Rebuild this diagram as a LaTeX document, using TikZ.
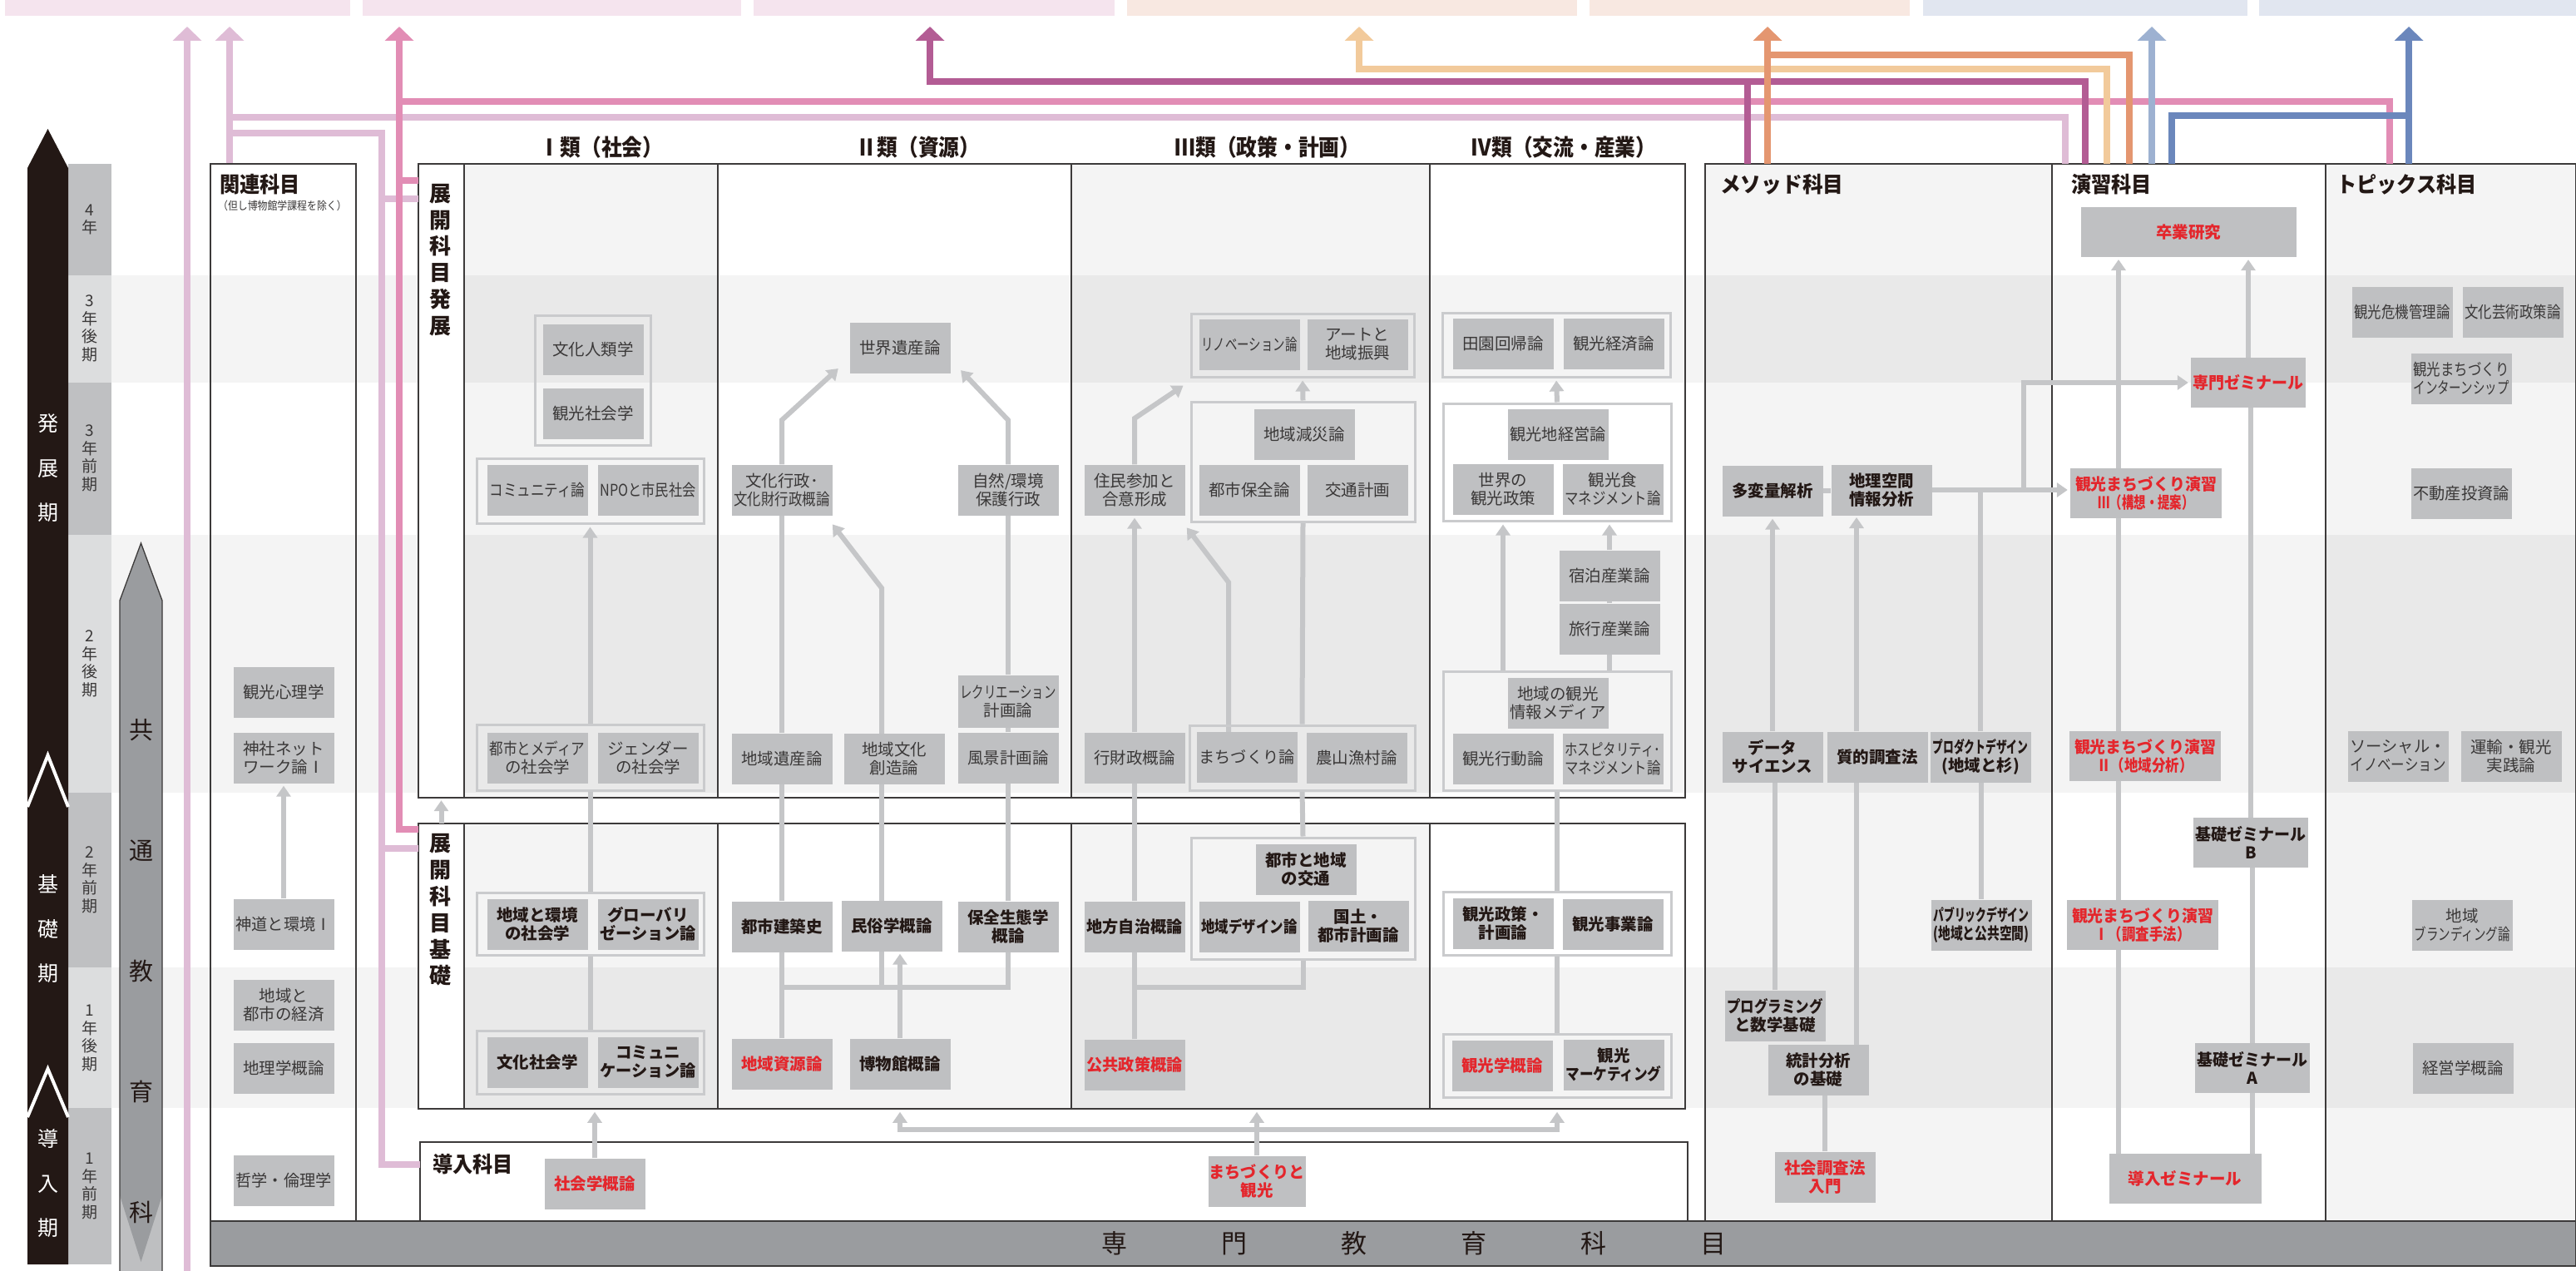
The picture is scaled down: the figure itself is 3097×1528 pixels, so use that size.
\documentclass[tikz,border=0pt]{standalone}
\usepackage{fontspec}
\setmainfont{Noto Sans CJK JP}
\usepackage{graphicx}
\usetikzlibrary{arrows.meta}
\pgfdeclarelayer{back}
\pgfdeclarelayer{conn}
\pgfsetlayers{back,conn,main}
\definecolor{nodegray}{HTML}{BFC0C2}
\definecolor{txtgray}{HTML}{3A3838}
\definecolor{txtblack}{HTML}{231815}
\definecolor{txtred}{HTML}{E4262C}
\definecolor{grpgray}{HTML}{CACBCD}
\definecolor{lingray}{HTML}{C5C6C8}
\definecolor{bggray}{HTML}{F4F4F4}
\definecolor{framec}{HTML}{3C3A3A}
\definecolor{yeardark}{HTML}{BFC0C2}
\definecolor{yearlight}{HTML}{DCDDDE}
\definecolor{kyotsu}{HTML}{9A9C9F}
\definecolor{kyotsul}{HTML}{BEBFC1}
\definecolor{barpink}{HTML}{F5E4EE}
\definecolor{barpeach}{HTML}{F8E8E1}
\definecolor{barblue}{HTML}{E1E6F0}
\definecolor{clpink}{HTML}{DFBCD6}
\definecolor{cpink}{HTML}{E28DB5}
\definecolor{cmag}{HTML}{B35C94}
\definecolor{clorange}{HTML}{F2CA9B}
\definecolor{corange}{HTML}{E49670}
\definecolor{clblue}{HTML}{9DB1D1}
\definecolor{cblue}{HTML}{6B87BC}
\newsavebox\fitbox
\newlength\fitmaxw
\newlength\fittmp
\setlength\fitmaxw{115pt}
\newcommand\fl[1]{\sbox\fitbox{#1}\setlength\fittmp{\wd\fitbox}\ifdim\fittmp>\fitmaxw\relax\pgfmathsetmacro\fitfac{\fitmaxw/\fittmp}\scalebox{\fitfac}[1]{\usebox\fitbox}\else\usebox\fitbox\fi}
\tikzset{
 crs/.style={fill=nodegray, minimum width=121pt, minimum height=61pt, inner sep=0pt, align=center, text=txtgray, font=\fontsize{19.5}{22}\selectfont},
 crsb/.style={crs, text=txtblack, font=\fontsize{19.5}{22}\selectfont\bfseries},
 crsr/.style={crs, text=txtred, font=\fontsize{19.5}{22}\selectfont\bfseries},
 grp/.style={draw=grpgray, line width=3pt, inner sep=0pt},
 conn/.style={draw=lingray, line width=6pt},
 carr/.style={conn, -{Triangle[width=17pt,length=13pt]}, shorten >=3pt},
 frm/.style={draw=framec, line width=1.5pt, inner sep=0pt},
 cl/.style={line width=8pt, -{Triangle[width=34pt,length=17pt]}},
 cln/.style={line width=8pt},
 hdr/.style={inner sep=0pt, text=txtblack, font=\fontsize{27.5}{30}\selectfont\bfseries},
 ttl/.style={inner sep=0pt, anchor=west, text=txtblack, font=\fontsize{26}{28}\selectfont\bfseries},
 yr/.style={inner sep=0pt, align=center, text=txtgray, font=\fontsize{19}{21.5}\selectfont},
 blk/.style={inner sep=0pt, align=center, text=white, font=\fontsize{25}{53.5}\selectfont},
 vlab/.style={inner sep=0pt, align=center, text=txtblack, font=\fontsize{26}{31.8}\selectfont\bfseries},
}
\begin{document}
\begin{tikzpicture}[x=1pt,y=-1pt]
\useasboundingbox (0,0) rectangle (3097,1528);
\begin{pgfonlayer}{back}
% top bars
\fill[barpink] (6,0) rectangle (421,19);
\fill[barpink] (436,0) rectangle (891,19);
\fill[barpink] (906,0) rectangle (1340,19);
\fill[barpeach] (1355,0) rectangle (1896,19);
\fill[barpeach] (1911,0) rectangle (2296,19);
\fill[barblue] (2312,0) rectangle (2702,19);
\fill[barblue] (2716,0) rectangle (3097,19);
% column backgrounds
\fill[white] (253,197) rectangle (428,1468);
\fill[bggray] (558,197) rectangle (863,959);
\fill[bggray] (558,990) rectangle (863,1333);
\fill[bggray] (1288,197) rectangle (1719,959);
\fill[bggray] (1288,990) rectangle (1719,1333);
\fill[bggray] (2050,197) rectangle (2467,1468);
\fill[bggray] (2796,197) rectangle (3097,1468);
% bands
\fill[black, opacity=0.045] (134,331) rectangle (3097,460);
\fill[black, opacity=0.045] (134,643) rectangle (3097,953);
\fill[black, opacity=0.045] (134,1163) rectangle (3097,1332);
% label columns
\node[fill=white, minimum width=55pt, minimum height=762pt, inner sep=0pt] (hattenL) at (530.5,578) {};
\node[fill=white, minimum width=55pt, minimum height=343pt, inner sep=0pt] (kisoL) at (530.5,1161.5) {};
% year column
\fill[yeardark] (82,197) rectangle (134,331);
\fill[yearlight] (82,331) rectangle (134,460);
\fill[yeardark] (82,460) rectangle (134,643);
\fill[yearlight] (82,643) rectangle (134,953);
\fill[yeardark] (82,953) rectangle (134,1163);
\fill[yearlight] (82,1163) rectangle (134,1332);
\fill[yeardark] (82,1332) rectangle (134,1520);
% black period arrow
\fill[txtblack] (57.5,155) -- (82,202) -- (82,1520) -- (33,1520) -- (33,202) -- cycle;
\draw[white, line width=4pt] (33,970) -- (57.5,908) -- (82,970);
\draw[white, line width=4pt] (33,1343) -- (57.5,1285) -- (82,1343);
% common education arrow
\fill[kyotsul] (169.5,653) -- (195,722) -- (195,1528) -- (144,1528) -- (144,722) -- cycle;
\fill[kyotsu] (169.5,653) -- (195,722) -- (195,1437) -- (169.5,1517) -- (144,1437) -- (144,722) -- cycle;
\draw[framec, line width=1.3pt] (144,1528) -- (144,722) -- (169.5,653) -- (195,722) -- (195,1528);
% frames
\node[frm, minimum width=175pt, minimum height=1271pt] (kanrenF) at (340.5,832.5) {};
\node[frm, minimum width=1523pt, minimum height=762pt] (hattenF) at (1264.5,578) {};
\node[frm, minimum width=1523pt, minimum height=343pt] (kisoF) at (1264.5,1161.5) {};
\node[frm, fill=white, minimum width=1524pt, minimum height=95pt] (donyuF) at (1267,1420.5) {};
\node[frm, minimum width=417pt, minimum height=1271pt] (methodF) at (2258.5,832.5) {};
\node[frm, minimum width=329pt, minimum height=1271pt] (enshuF) at (2631.5,832.5) {};
\node[frm, minimum width=301pt, minimum height=1271pt] (topicsF) at (2946.5,832.5) {};
\draw[framec, line width=1.2pt] (558,197) -- (558,959) (863,197) -- (863,959) (1288,197) -- (1288,959) (1719,197) -- (1719,959);
\draw[framec, line width=1.2pt] (558,990) -- (558,1333) (863,990) -- (863,1333) (1288,990) -- (1288,1333) (1719,990) -- (1719,1333);
\node[frm, fill=kyotsu, minimum width=2844pt, minimum height=54pt] (senmonBar) at (1675,1495) {};
% colored lines
\draw[clpink, cl] (225,1528) -- (225,32);
\draw[clpink, cl] (kanrenF.north -| 276,0) -- (276,32);
\draw[clpink, cln] (276,141) -- (2483,141) -- (2483,197);
\draw[clpink, cln] (276,160) -- (459,160) -- (459,1400) -- (505,1400);
\draw[clpink, cln] (459,239) -- (503,239);
\draw[clpink, cln] (459,1020) -- (503,1020);
\draw[cpink, cl] (503,997) -- (480,997) -- (480,32);
\draw[cpink, cln] (480,217) -- (503,217);
\draw[cpink, cln] (480,122) -- (2873,122) -- (2873,197);
\draw[cmag, cl] (2507,197) -- (2507,98) -- (1118,98) -- (1118,32);
\draw[cmag, cln] (2101,98) -- (2101,197);
\draw[clorange, cl] (2533,197) -- (2533,83) -- (1634,83) -- (1634,32);
\draw[corange, cl] (2125,197) -- (2125,32);
\draw[corange, cln] (2125,66) -- (2560,66) -- (2560,197);
\draw[clblue, cl] (2587,197) -- (2587,32);
\draw[cblue, cl] (2896,197) -- (2896,32);
\draw[cblue, cln] (2896,139) -- (2611,139) -- (2611,197);
\end{pgfonlayer}
% labels on left
\node[yr] (y1) at (108,264) {4\\年};
\node[yr] (y2) at (108,395) {3\\年\\後\\期};
\node[yr] (y3) at (108,551) {3\\年\\前\\期};
\node[yr] (y4) at (108,798) {2\\年\\後\\期};
\node[yr] (y5) at (108,1058) {2\\年\\前\\期};
\node[yr] (y6) at (108,1248) {1\\年\\後\\期};
\node[yr] (y7) at (108,1426) {1\\年\\前\\期};
\node[blk] (p1) at (57.5,563) {発\\展\\期};
\node[blk] (p2) at (57.5,1117) {基\\礎\\期};
\node[blk] (p3) at (57.5,1423) {導\\入\\期};
\node[inner sep=0pt, align=center, text=txtblack, font=\fontsize{29}{145}\selectfont] (kyo) at (169.5,1168) {共\\通\\教\\育\\科};
\node[inner sep=0pt, text=txtblack, font=\fontsize{31}{33}\selectfont] (senmonT) at (1700,1495) {専\hspace{113pt}門\hspace{113pt}教\hspace{113pt}育\hspace{113pt}科\hspace{113pt}目};
% titles
\node[hdr] (hI) at (723,177) {\scalebox{0.9}[1]{Ⅰ類（社会）}};
\node[hdr] (hII) at (1104,177) {\scalebox{0.9}[1]{Ⅱ類（資源）}};
\node[hdr] (hIII) at (1524,177) {\scalebox{0.9}[1]{Ⅲ類（政策・計画）}};
\node[hdr] (hIV) at (1880,177) {\scalebox{0.9}[1]{Ⅳ類（交流・産業）}};
\node[ttl] (tKanren) at (264,222) {\scalebox{0.93}[1]{関連科目}};
\node[inner sep=0pt, anchor=west, text=txtgray, font=\fontsize{13.5}{15}\selectfont] (tKanren2) at (262,247) {\scalebox{0.88}[1]{（但し博物館学課程を除く）}};
\node[ttl] (tMethod) at (2068,222) {\scalebox{0.95}[1]{メソッド科目}};
\node[ttl] (tEnshu) at (2490,222) {\scalebox{0.93}[1]{演習科目}};
\node[ttl] (tTopics) at (2809,222) {\scalebox{0.93}[1]{トピックス科目}};
\node[ttl] (tDonyu) at (520,1400) {\scalebox{0.93}[1]{導入科目}};
\node[vlab] (vHatten) at (529,312.5) {展\\開\\科\\目\\発\\展};
\node[vlab] (vKiso) at (529,1094) {展\\開\\科\\目\\基\\礎};
% groups
\node[grp, minimum width=139pt, minimum height=156pt] (gI1) at (712.5,457) {};
\node[grp, minimum width=273pt, minimum height=78pt] (gI2) at (709.5,590) {};
\node[grp, minimum width=273pt, minimum height=79pt] (gI3) at (709.5,910.5) {};
\node[grp, minimum width=273pt, minimum height=75pt] (gI4) at (709.5,1110.5) {};
\node[grp, minimum width=273pt, minimum height=76pt] (gI5) at (709.5,1277) {};
\node[grp, minimum width=268pt, minimum height=76pt] (gIII1) at (1566,415) {};
\node[grp, minimum width=269pt, minimum height=144pt] (gIII2) at (1566.5,555) {};
\node[grp, minimum width=271pt, minimum height=78pt] (gIII3) at (1565.5,911) {};
\node[grp, minimum width=269pt, minimum height=146pt] (gIII4) at (1566.5,1080) {};
\node[grp, minimum width=274pt, minimum height=77pt] (gIV1) at (1871,414.5) {};
\node[grp, minimum width=274pt, minimum height=141pt] (gIV2) at (1872,555.5) {};
\node[grp, minimum width=274pt, minimum height=143pt] (gIV3) at (1872,878.5) {};
\node[grp, minimum width=274pt, minimum height=76pt] (gIV4) at (1872,1110) {};
\node[grp, minimum width=274pt, minimum height=76pt] (gIV5) at (1872,1281) {};
% nodes: related
\node[crs] (kr1) at (341,832) {\fl{観光心理学}};
\node[crs] (kr2) at (341,911) {\fl{神社ネット}\\\fl{ワーク論Ⅰ}};
\node[crs] (kr3) at (341,1111) {\fl{神道と環境Ⅰ}};
\node[crs] (kr4) at (341,1208) {\fl{地域と}\\\fl{都市の経済}};
\node[crs] (kr5) at (341,1284) {\fl{地理学概論}};
\node[crs] (kr6) at (341,1419) {\fl{哲学・倫理学}};
% I
\node[crs] (i1) at (713,420) {\fl{文化人類学}};
\node[crs] (i2) at (713,497) {\fl{観光社会学}};
\node[crs] (i3) at (646,589) {\fl{コミュニティ論}};
\node[crs] (i4) at (779,589) {\fl{NPOと市民社会}};
\node[crs] (i5) at (646,911) {\fl{都市とメディア}\\\fl{の社会学}};
\node[crs] (i6) at (779,911) {\fl{ジェンダー}\\\fl{の社会学}};
\node[crsb] (i7) at (646,1111) {\fl{地域と環境}\\\fl{の社会学}};
\node[crsb] (i8) at (779,1111) {\fl{グローバリ}\\\fl{ゼーション論}};
\node[crsb] (i9) at (646,1277) {\fl{文化社会学}};
\node[crsb] (i10) at (779,1277) {\fl{コミュニ}\\\fl{ケーション論}};
\node[crsr] (shakai) at (715,1423) {\fl{社会学概論}};
% II
\node[crs] (ii1) at (1082,418) {\fl{世界遺産論}};
\node[crs] (ii2) at (940,589) {\fl{文化行政･}\\\fl{文化財行政概論}};
\node[crs] (ii3) at (1212,589) {\fl{自然/環境}\\\fl{保護行政}};
\node[crs, minimum height=63pt] (ii4) at (1212,843) {\fl{レクリエーション}\\\fl{計画論}};
\node[crs] (ii5) at (940,912) {\fl{地域遺産論}};
\node[crs] (ii6) at (1075,912) {\fl{地域文化}\\\fl{創造論}};
\node[crs] (ii7) at (1212,911) {\fl{風景計画論}};
\node[crsb] (ii8) at (940,1114) {\fl{都市建築史}};
\node[crsb] (ii9) at (1072,1113) {\fl{民俗学概論}};
\node[crsb] (ii10) at (1212,1114) {\fl{保全生態学}\\\fl{概論}};
\node[crsr] (ii11) at (940,1279) {\fl{地域資源論}};
\node[crsb] (ii12) at (1082,1279) {\fl{博物館概論}};
% III
\node[crs] (iii1) at (1502,414) {\fl{リノベーション論}};
\node[crs] (iii2) at (1632,414) {\fl{アートと}\\\fl{地域振興}};
\node[crs] (iii3) at (1568,522) {\fl{地域減災論}};
\node[crs] (iii4) at (1502,589) {\fl{都市保全論}};
\node[crs] (iii5) at (1632,589) {\fl{交通計画}};
\node[crs] (iii6) at (1364,589) {\fl{住民参加と}\\\fl{合意形成}};
\node[crs] (iii7) at (1364,911) {\fl{行財政概論}};
\node[crs] (iii8) at (1499,910) {\fl{まちづくり論}};
\node[crs] (iii9) at (1631,911) {\fl{農山漁村論}};
\node[crsb] (iii10) at (1570,1045) {\fl{都市と地域}\\\fl{の交通}};
\node[crsb] (iii11) at (1502,1114) {\fl{地域デザイン論}};
\node[crsb] (iii12) at (1633,1113) {\fl{国土・}\\\fl{都市計画論}};
\node[crsb] (iii13) at (1364,1114) {\fl{地方自治概論}};
\node[crsr] (iii14) at (1364,1280) {\fl{公共政策概論}};
% IV
\node[crs] (iv1) at (1807,413) {\fl{田園回帰論}};
\node[crs] (iv2) at (1940,413) {\fl{観光経済論}};
\node[crs] (iv3) at (1873,522) {\fl{観光地経営論}};
\node[crs] (iv4) at (1807,588) {\fl{世界の}\\\fl{観光政策}};
\node[crs] (iv5) at (1939,588) {\fl{観光食}\\\fl{マネジメント論}};
\node[crs] (iv6) at (1935,692) {\fl{宿泊産業論}};
\node[crs] (iv7) at (1935,756) {\fl{旅行産業論}};
\node[crs] (iv8) at (1873,845) {\fl{地域の観光}\\\fl{情報メディア}};
\node[crs] (iv9) at (1807,912) {\fl{観光行動論}};
\node[crs] (iv10) at (1939,912) {\fl{ホスピタリティ･}\\\fl{マネジメント論}};
\node[crsb] (iv11) at (1807,1110) {\fl{観光政策・}\\\fl{計画論}};
\node[crsb] (iv12) at (1939,1111) {\fl{観光事業論}};
\node[crsr] (iv13) at (1806,1281) {\fl{観光学概論}};
\node[crsb] (iv14) at (1940,1280) {\fl{観光}\\\fl{マーケティング}};
\node[crsr, minimum width=117pt] (machi) at (1511,1420) {\fl{まちづくりと}\\\fl{観光}};
% method
\node[crsb] (m1) at (2131,590) {\fl{多変量解析}};
\node[crsb] (m2) at (2262,589) {\fl{地理空間}\\\fl{情報分析}};
\node[crsb] (m3) at (2131,910) {\fl{データ}\\\fl{サイエンス}};
\node[crsb] (m4) at (2257,910) {\fl{質的調査法}};
\node[crsb] (m5) at (2134,1221) {\fl{プログラミング}\\\fl{と数学基礎}};
\node[crsb] (m6) at (2186,1286) {\fl{統計分析}\\\fl{の基礎}};
\node[crsr] (m7) at (2194,1415) {\fl{社会調査法}\\\fl{入門}};
\node[crsb] (m8) at (2381,910) {\fl{プロダクトデザイン}\\\fl{(地域と杉)}};
\node[crsb] (m9) at (2382,1112) {\fl{パブリックデザイン}\\\fl{(地域と公共空間)}};
% exercises
\node[crsr, minimum width=259pt, minimum height=60pt] (e0) at (2631,279) {\fl{卒業研究}};
\node[crsr, minimum width=138pt, minimum height=60pt] (e1) at (2703,460) {\setlength\fitmaxw{133pt}\fl{専門ゼミナール}};
\node[crsr, minimum width=182pt, minimum height=60pt] (e2) at (2580,593) {\setlength\fitmaxw{170pt}\fl{観光まちづくり演習}\\\fl{Ⅲ（構想・提案）}};
\node[crsr, minimum width=182pt, minimum height=60pt] (e3) at (2579,909) {\setlength\fitmaxw{170pt}\fl{観光まちづくり演習}\\\fl{Ⅱ（地域分析）}};
\node[crsr, minimum width=182pt, minimum height=60pt] (e4) at (2576,1112) {\setlength\fitmaxw{170pt}\fl{観光まちづくり演習}\\\fl{Ⅰ（調査手法）}};
\node[crsr, minimum width=183pt, minimum height=60pt] (e5) at (2627,1417) {\setlength\fitmaxw{170pt}\fl{導入ゼミナール}};
\node[crsb, minimum width=138pt, minimum height=60pt] (e6) at (2706,1013) {\setlength\fitmaxw{133pt}\fl{基礎ゼミナール}\\\fl{B}};
\node[crsb, minimum width=138pt, minimum height=60pt] (e7) at (2708,1284) {\setlength\fitmaxw{133pt}\fl{基礎ゼミナール}\\\fl{A}};
% topics
\node[crs] (t1) at (2888,375) {\fl{観光危機管理論}};
\node[crs] (t2) at (3021,375) {\fl{文化芸術政策論}};
\node[crs] (t3) at (2959,455) {\fl{観光まちづくり}\\\fl{インターンシップ}};
\node[crs] (t4) at (2959,593) {\fl{不動産投資論}};
\node[crs] (t5) at (2883,909) {\fl{ソーシャル・}\\\fl{イノベーション}};
\node[crs] (t6) at (3019,909) {\fl{運輸・観光}\\\fl{実践論}};
\node[crs] (t7) at (2960,1112) {\fl{地域}\\\fl{ブランディング論}};
\node[crs] (t8) at (2961,1284) {\fl{経営学概論}};
% gray connectors (behind nodes)
\begin{pgfonlayer}{conn}
\draw[carr] (kr3.north) -- (kr2.south);
\draw[carr] (gI3.north) -- (gI2.south);
\draw[conn] (gI4.north) -- (gI3.south);
\draw[conn] (gI5.north) -- (gI4.south);
\draw[carr] (shakai.north) -- (shakai.north |- kisoF.south);
\draw[carr] (kisoL.north) -- (hattenL.south);
\draw[conn] (ii5.north) -- (ii2.south);
\draw[carr] (ii2.north) -- (940,505) -- (1010,441);
\draw[carr] (ii3.north) -- (1212,505) -- (1153,443);
\draw[conn] (ii4.north) -- (ii3.south);
\draw[conn] (ii7.north) -- (ii4.south);
\draw[carr] (1060,882) -- (1060,707) -- (999,628);
\draw[conn] (1060,1083) -- (1060,943);
\draw[conn] (ii8.north) -- (ii5.south);
\draw[conn] (ii10.north) -- (ii7.south);
\draw[conn] (ii8.south) -- (940,1187) -- (1212,1187) -- (ii10.south);
\draw[conn] (1060,1144) -- (1060,1187);
\draw[conn] (ii11.north) -- (940,1187);
\draw[carr] (ii12.north) -- (ii12.north |- ii9.south);
\draw[carr] (gIII2.north) -- (gIII1.south);
\draw[conn] (gIII3.north) -- (gIII2.south);
\draw[conn] (gIII4.north) -- (gIII3.south);
\draw[carr] (iii6.north) -- (1364,503) -- (1425,462);
\draw[carr] (iii7.north) -- (iii6.south);
\draw[carr] (1477,880) -- (1477,700) -- (1425,632);
\draw[conn] (iii13.north) -- (iii7.south);
\draw[conn] (iii13.south) -- (1364,1187) -- (1566.5,1187) -- (gIII4.south);
\draw[conn] (iii14.north) -- (1364,1187);
\draw[carr] (gIV2.north) -- (gIV1.south);
\draw[carr] (gIV3.north -| iv4.north) -- (gIV2.south -| iv4.north);
\draw[conn] (gIV3.north -| iv7.south) -- (iv7.south);
\draw[conn] (iv7.north) -- (iv6.south);
\draw[carr] (iv6.north) -- (gIV2.south -| iv6.north);
\draw[conn] (gIV4.north) -- (gIV3.south);
\draw[conn] (gIV5.north) -- (gIV4.south);
\coordinate (mj) at (1511,1358);
\draw[carr] (machi.north) -- (machi.north |- kisoF.south);
\draw[carr] (mj) -| (kisoF.south -| ii12.north);
\draw[carr] (mj) -| (kisoF.south -| gIV5.south);
\draw[carr] (m3.north) -- (m1.south);
\draw[carr] (2232,879) -- (2232,619);
\draw[conn] (m5.north) -- (m5.north |- m3.south);
\draw[conn] (2232,940) -- (2232,1256);
\draw[conn] (m7.north) -- (m7.north |- m6.south);
\draw[conn] (m1.east) -- (m1.east -| m2.west);
\draw[carr] (m2.east) -- (m2.east -| e2.west);
\draw[conn] (m8.north) -- (m8.north |- m2.east);
\draw[conn] (m9.north) -- (m9.north |- m8.south);
\draw[carr] (2433,589) -- (2433,460) -- (e1.west);
\draw[carr] (2547,563) -- (2547,309);
\draw[conn] (2547,879) -- (2547,623);
\draw[conn] (2547,1082) -- (2547,939);
\draw[conn] (2547,1387) -- (2547,1142);
\draw[carr] (e1.north) -- (e1.north |- e0.south);
\draw[conn] (e6.north) -- (e6.north |- e1.south);
\draw[conn] (e7.north) -- (e7.north |- e6.south);
\draw[conn] (e7.south |- e5.north) -- (e7.south);
\end{pgfonlayer}
\end{tikzpicture}
\end{document}
